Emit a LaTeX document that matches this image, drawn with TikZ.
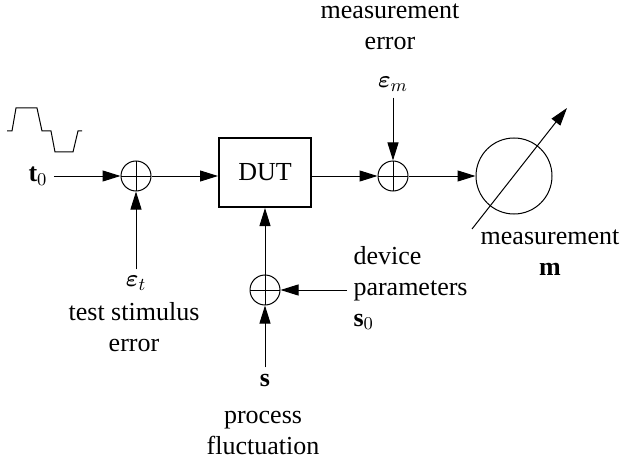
\documentclass[tikz,border=0pt]{standalone}
\usepackage{amsmath}
\usepackage{fontspec}
\setmainfont{LiberationSerif}[Extension=.ttf, UprightFont=*-Regular, BoldFont=*-Bold, ItalicFont=*-Italic, BoldItalicFont=*-BoldItalic]
\usetikzlibrary{arrows.meta}
\tikzset{
	node_text/.style = {
		align=center,
		inner sep=3pt
	},
	node_sum/.style = {
		circle,
		draw=black,
		inner sep=0pt,
		minimum size=15pt,
		path picture={
			\draw [-] (path picture bounding box.north) -- (path picture bounding box.south)
			      (path picture bounding box.west) -- (path picture bounding box.east);
		}
	},
	node_dut/.style = {
		rectangle,
		draw=black,
		line width=1pt,
		minimum width=46pt,
		minimum height=34.5pt
	},
	node_meter/.style = {
		circle,
		draw=black,
		inner sep=0pt,
		minimum size=38pt
	},
}

\begin{document}
\begin{tikzpicture}[x=0.5pt, y=-0.5pt, line width=0.5pt, ->, >={Triangle[length=9pt,width=5.5pt]}, font=\rmfamily\fontsize{13pt}{15.5pt}\selectfont]
\useasboundingbox (0,0) rectangle (621,465);
% blocks
\node [node_sum] (sum_t) at (136,176) {};
\node [node_dut] (dut) at (265,172.5) {DUT};
\node [node_sum] (sum_m) at (393,176) {};
\node [node_meter] (meter) at (514,176) {};
\node [node_sum] (sum_s) at (265,290) {};
% signals
\node [node_text] (t0) at (38,176) {$\mathbf{t}_0$};
\node [node_text] (eps_t) at (136,283) {$\boldsymbol{\varepsilon}_t$};
\node [node_text] at (134,327) {test stimulus\\error};
\node [node_text] (eps_m) at (393,84) {$\boldsymbol{\varepsilon}_m$};
\node [node_text] at (390,27) {measurement\\error};
\node [node_text] (s) at (265,380) {$\mathbf{s}$};
\node [node_text] at (263,433) {process\\fluctuation};
\node [node_text, align=left, anchor=west] (s0) at (347,288) {device\\parameters\\$\mathbf{s}_0$};
\node [node_text] at (550,253) {measurement\\$\mathbf{m}$};
% connections
\draw (t0) -- (sum_t);
\draw (sum_t) -- (sum_t -| dut.west);
\draw (eps_t) -- (sum_t);
\draw (dut.east |- sum_m) -- (sum_m);
\draw (eps_m) -- (sum_m);
\draw (sum_m) -- (meter);
\draw (sum_s) -- (dut);
\draw (s) -- (sum_s);
\draw (s0.west |- sum_s) -- (sum_s);
% pointer
\coordinate (needle_a) at (472,229);
\coordinate (needle_b) at (567,108);
\draw (needle_a) -- (needle_b);
% test stimulus
\draw [-] (7,131) -- (12,131) -- (16,108) -- (37,108) -- (42,131) -- (51,131)
	-- (55,152) -- (73,152) -- (78,131) -- (82,131);
\end{tikzpicture}
\end{document}
